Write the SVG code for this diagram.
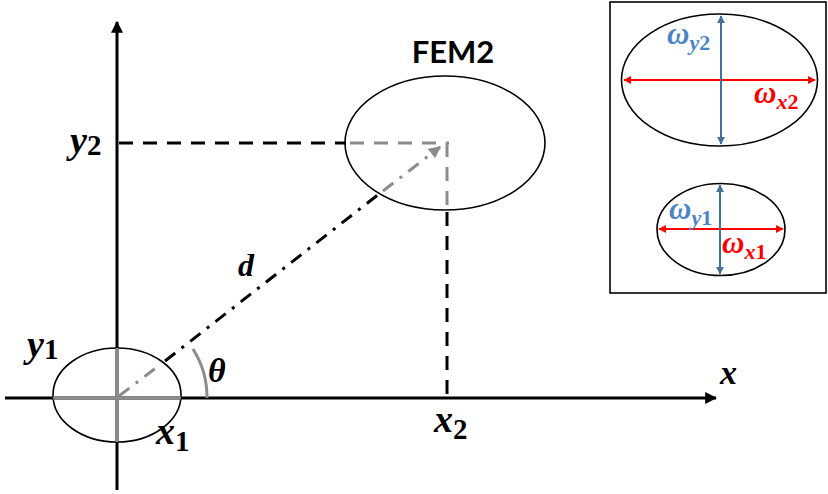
<svg xmlns="http://www.w3.org/2000/svg" width="828" height="494" viewBox="0 0 828 494">
<style>
.ax{stroke:#000;stroke-width:3;fill:none}
.ell{fill:none;stroke:#000;stroke-width:1.6}
.dash{stroke-width:3;stroke-dasharray:14 10;fill:none}
.dd{stroke-width:3;stroke-dasharray:13 8 3 8;fill:none}
.blk{stroke:#000}
.gry{stroke:#8c8c8c}
.m{font-family:"Liberation Serif","DejaVu Serif",serif;font-weight:bold;font-style:italic;fill:#000}
.n{font-style:normal}
.fem{font-family:Lato,"Open Sans","Liberation Sans",sans-serif;font-weight:bold;font-size:31px;fill:#000}
.red{fill:#ff0000}
.blu{fill:#4a86c5}
</style>
<defs>
<marker id="ah" viewBox="0 0 10 10" refX="9" refY="5" markerWidth="4" markerHeight="4" orient="auto" markerUnits="strokeWidth">
<path d="M0,0 L10,5 L0,10 z" fill="#000"/>
</marker>
<marker id="ahg" viewBox="0 0 10 10" refX="9" refY="5" markerWidth="4" markerHeight="4" orient="auto" markerUnits="strokeWidth">
<path d="M0,0 L10,5 L0,10 z" fill="#8c8c8c"/>
</marker>
<marker id="ar" viewBox="0 0 10 10" refX="9" refY="5" markerWidth="4" markerHeight="4" orient="auto-start-reverse" markerUnits="strokeWidth">
<path d="M0,0 L10,5 L0,10 z" fill="#ff0000"/>
</marker>
<marker id="ab" viewBox="0 0 10 10" refX="9" refY="5" markerWidth="4" markerHeight="4" orient="auto-start-reverse" markerUnits="strokeWidth">
<path d="M0,0 L10,5 L0,10 z" fill="#41719c"/>
</marker>
</defs>

<g id="connectors">
<line class="ax" x1="117" y1="490" x2="117" y2="22" marker-end="url(#ah)"/>
<line class="ax" x1="5" y1="398" x2="716" y2="398" marker-end="url(#ah)"/>
<line class="dash blk" x1="119" y1="143" x2="346" y2="143"/>
<line class="dash gry" x1="350" y1="143" x2="449" y2="143"/>
<line class="dash gry" x1="447" y1="143" x2="447" y2="208"/>
<line class="dash blk" x1="447" y1="212" x2="447" y2="398"/>
<line class="dd gry" x1="119" y1="396" x2="161" y2="364"/>
<line class="dd blk" x1="165" y1="361" x2="379" y2="194"/>
<line class="dd gry" x1="383" y1="191" x2="440" y2="147" marker-end="url(#ahg)"/>
<path d="M207,398 A90,90 0 0 0 193,349" fill="none" stroke="#8c8c8c" stroke-width="3"/>
</g>

<g id="fem1">
<ellipse class="ell" cx="117" cy="395" rx="64" ry="47"/>
<line x1="53" y1="398" x2="181" y2="398" stroke="#8c8c8c" stroke-width="3"/>
<line x1="117" y1="348" x2="117" y2="442" stroke="#8c8c8c" stroke-width="3"/>
</g>

<g id="fem2">
<ellipse class="ell" cx="445" cy="143" rx="100" ry="67"/>
<text class="fem" x="453" y="63" text-anchor="middle">FEM2</text>
</g>

<g id="labels">
<text class="m" x="70" y="153" font-size="38">y<tspan class="n" font-size="29" dy="2">2</tspan></text>
<text class="m" x="27" y="357" font-size="38">y<tspan class="n" font-size="29" dy="2">1</tspan></text>
<text class="m" x="156" y="444" font-size="38">x<tspan class="n" font-size="29" dy="7">1</tspan></text>
<text class="m" x="434" y="432" font-size="38">x<tspan class="n" font-size="29" dy="7">2</tspan></text>
<text class="m" x="720" y="384" font-size="34">x</text>
<text class="m" x="238" y="276" font-size="32">d</text>
<text class="m" x="208" y="382" font-size="34">θ</text>
</g>

<g id="inset">
<rect x="610" y="2" width="216" height="291" fill="none" stroke="#000" stroke-width="1.6"/>
<ellipse class="ell" cx="719.5" cy="80" rx="98" ry="66"/>
<line x1="624" y1="80" x2="815" y2="80" stroke="#ff0000" stroke-width="2" marker-start="url(#ar)" marker-end="url(#ar)"/>
<line x1="721" y1="16" x2="721" y2="144" stroke="#41719c" stroke-width="2" marker-start="url(#ab)" marker-end="url(#ab)"/>
<ellipse class="ell" cx="721" cy="229.5" rx="64" ry="46"/>
<line x1="659" y1="229" x2="783" y2="229" stroke="#ff0000" stroke-width="2" marker-start="url(#ar)" marker-end="url(#ar)"/>
<line x1="720" y1="185" x2="720" y2="274" stroke="#41719c" stroke-width="2" marker-start="url(#ab)" marker-end="url(#ab)"/>
<text class="m blu" x="667" y="44" font-size="31">ω<tspan font-size="22" dy="6">y</tspan><tspan class="n" font-size="22">2</tspan></text>
<text class="m red" x="754" y="103" font-size="31">ω<tspan font-size="22" dy="6">x</tspan><tspan class="n" font-size="22">2</tspan></text>
<text class="m blu" x="669" y="219" font-size="31">ω<tspan font-size="22" dy="6">y</tspan><tspan class="n" font-size="22">1</tspan></text>
<text class="m red" x="722" y="253" font-size="31">ω<tspan font-size="22" dy="6">x</tspan><tspan class="n" font-size="22">1</tspan></text>
</g>
</svg>
